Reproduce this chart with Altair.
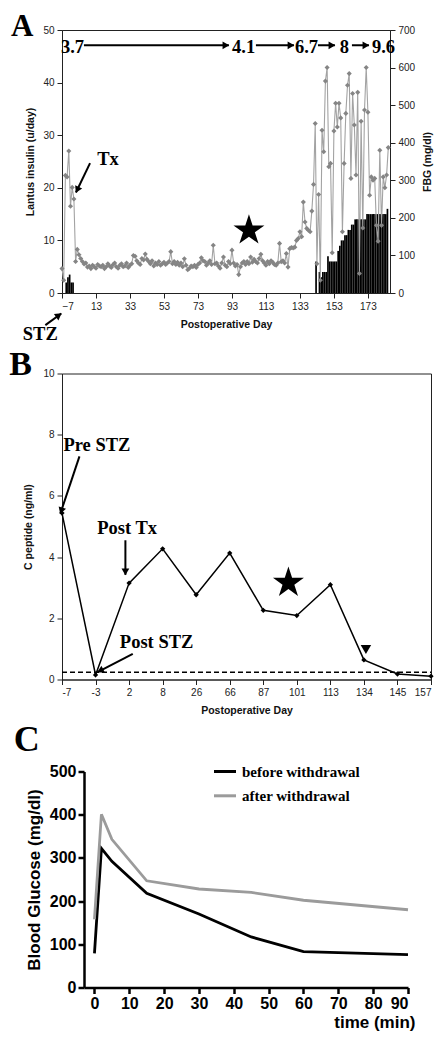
import math
import altair as alt
import pandas as pd

SANS = "Liberation Sans"
SERIF = "Liberation Serif"

# ---------------- Panel A data ----------------
fbg_days = list(range(-7, 186))
fbg_mgdl = [
    65, 34, 313, 309, 378, 231, 281, 250, 84, 116,
    102, 92, 84, 77, 80, 69, 72, 65, 74, 70,
    66, 76, 72, 70, 74, 65, 70, 78, 72, 68,
    75, 80, 70, 66, 74, 78, 70, 72, 80, 68,
    74, 78, 100, 98, 86, 80, 76, 92, 88, 104,
    90, 84, 78, 86, 72, 80, 76, 84, 74, 78,
    82, 76, 80, 84, 110, 78, 84, 76, 82, 74,
    80, 70, 91, 74, 62, 66, 72, 70, 74, 68,
    76, 80, 94, 86, 84, 74, 80, 86, 76, 127,
    78, 80, 72, 66, 80, 96, 74, 70, 84, 78,
    114, 80, 72, 76, 49, 70, 80, 84, 76, 84,
    78, 96, 82, 90, 84, 80, 92, 103, 86, 80,
    74, 84, 78, 86, 82, 76, 74, 80, 132, 83,
    86, 80, 105, 69, 118, 121, 120, 122, 140, 145,
    163, 150, 242, 189, 172, 167, 163, 218, 289, 451,
    78, 262, 34, 433, 376, 564, 600, 336, 345, 107,
    431, 505, 442, 505, 466, 163, 345, 478, 553, 584,
    305, 531, 447, 314, 534, 52, 457, 173, 487, 600,
    481, 260, 309, 300, 305, 180, 138, 380, 180, 309,
    280, 314, 387,
]
insulin_days = [-5, -4, -3, -2, -1, 142, 144, 145, 146, 147, 148, 149,
                150, 151, 152, 153, 154, 155, 156, 157, 158, 159, 160,
                161, 162, 163, 164, 165, 166, 167, 168, 169, 170, 171,
                172, 173, 174, 175, 176, 177, 178, 179, 180, 181, 182, 183, 184]
insulin_u = [2, 3, 3.5, 2, 2, 6, 4, 3, 4, 4, 4, 7,
             6, 6, 6, 6, 6, 8, 9, 10, 10, 11, 11,
             12, 12, 13, 13, 14, 14, 14, 14, 14, 14, 14,
             15, 15, 15, 15, 15, 15, 15, 15, 15, 15, 15, 15, 16]
xticks_A = [-7, 13, 33, 53, 73, 93, 113, 133, 153, 173]

# annotations of panel A (day, left-axis units)
dose_labels = ["3.7", "4.1", "6.7", "8", "9.6"]
dose_label_day = [-0.8, 99.9, 136.9, 159.2, 182.2]
dose_label_u = 46.8
dose_arrow_from = [5.9, 107.1, 143.6, 163.6]
dose_arrow_to = [91.2, 129.5, 153.6, 173.6]
dose_arrow_u = 47.1
notes_A = ["Tx", "STZ"]
notes_A_day = [20.1, -19.8]
notes_A_u = [25.5, -7.7]
arrows_A = [(9.5, 24.7, 1.2, 19.1), (-16.8, -6.1, -7.4, -3.9)]
star_A = (103, 11.9)

# ---------------- Panel B data ----------------
cpep_days = ["-7", "-3", "2", "8", "26", "66", "87", "101", "113", "134", "145", "157"]
cpep_ngml = [5.44, 0.15, 3.15, 4.27, 2.77, 4.13, 2.26, 2.09, 3.10, 0.64, 0.18, 0.11]
cpep_limit = 0.24
notes_B = ["Pre STZ", "Post Tx", "Post STZ"]
notes_B_x = [1.04, 1.94, 2.82]
notes_B_y = [7.65, 4.95, 1.22]
arrows_B = [(0.52, 7.29, -0.05, 5.42), (1.89, 4.55, 1.89, 3.42), (2.11, 0.84, 1.06, 0.24)]
star_B = (6.75, 3.16)
tri_B = (9.06, 0.98)

# ---------------- Panel C data ----------------
ogtt_min = [0, 2, 5, 15, 30, 45, 60, 90]
before_withdrawal = [79, 322, 292, 218, 170, 117, 83, 76]
after_withdrawal = [158, 401, 343, 247, 228, 220, 202, 180]
series_names = ["before withdrawal", "after withdrawal"]
series_colors = ["black", "#9b9b9b"]

STAR = ("M0,-1L0.225,-0.309L0.951,-0.309L0.363,0.118L0.588,0.809L0,0.382"
        "L-0.588,0.809L-0.363,0.118L-0.951,-0.309L-0.225,-0.309Z")


def arrow_tables(segs, sx, sy, back=3.0):
    rows, heads = [], []
    for (x1, y1, x2, y2) in segs:
        dxp = (x2 - x1) * sx
        dyp = -(y2 - y1) * sy
        L = math.hypot(dxp, dyp)
        ang = math.degrees(math.atan2(dxp, -dyp)) % 360
        rows.append(dict(x1=x1, y1=y1, x2=x2, y2=y2))
        heads.append(dict(x=x2 - dxp / L * back / sx, y=y2 + dyp / L * back / sy, ang=ang))
    return pd.DataFrame(rows), pd.DataFrame(heads)


def letter(t, x, y, size):
    return alt.Chart(pd.DataFrame({"t": [t]})).mark_text(
        font=SERIF, fontWeight="bold", fontSize=size, align="left", baseline="middle",
        color="black").encode(x=alt.value(x), y=alt.value(y), text="t:N")


# ================= Panel A =================
WA, HA = 328, 263
xA = alt.Scale(domain=[-7, 186], nice=False, zero=False)
yL = alt.Scale(domain=[0, 50], nice=False)
yR = alt.Scale(domain=[0, 700], nice=False)
axstyle = dict(labelFont=SANS, labelFontSize=10, labelColor="#222", titleFont=SANS,
               titleFontSize=10.5, titleFontWeight="bold", titleColor="#111",
               domainColor="#222", tickColor="#222", tickSize=5, labelPadding=3, grid=False,
               labelOverlap=False)
XA_T = "Postoperative Day"
YL_T = "Lantus insulin (u/day)"
axA_x = alt.Axis(values=xticks_A, titlePadding=8, **axstyle)
axA_y = alt.Axis(values=list(range(0, 51, 10)), titlePadding=7, **axstyle)


def xa(f):
    return alt.X(f, scale=xA, title=XA_T, axis=axA_x)


def ya(f):
    return alt.Y(f, scale=yL, title=YL_T, axis=axA_y)


ins_df = pd.DataFrame({"day": insulin_days, "units": insulin_u})
ins_df["day_end"] = ins_df["day"] + 1
bars = alt.Chart(ins_df).mark_rect(color="black").encode(
    x=xa("day:Q"), x2="day_end:Q", y=ya("units:Q"), y2=alt.datum(0))

dose_df = pd.DataFrame({"t": dose_labels, "x": dose_label_day, "y": dose_label_u})
dose_text = alt.Chart(dose_df).mark_text(font=SERIF, fontWeight="bold", fontSize=18.5,
                                         baseline="middle", color="black").encode(
    x=xa("x:Q"), y=ya("y:Q"), text="t:N")
dose_segs = [(a, dose_arrow_u, b, dose_arrow_u) for a, b in zip(dose_arrow_from, dose_arrow_to)]
rA, hA = arrow_tables(dose_segs + arrows_A, 1.7, 5.26)
rules_A = alt.Chart(rA).mark_rule(color="black", strokeWidth=2).encode(
    x=xa("x1:Q"), y=ya("y1:Q"), x2="x2:Q", y2="y2:Q")
heads_A = alt.Chart(hA).mark_point(shape="triangle-up", filled=True, size=60, color="black",
                                   opacity=1).encode(
    x=xa("x:Q"), y=ya("y:Q"), angle=alt.Angle("ang:Q", scale=None))
notesA_df = pd.DataFrame({"t": notes_A, "x": notes_A_day, "y": notes_A_u})
notes_A_txt = alt.Chart(notesA_df).mark_text(font=SERIF, fontWeight="bold", fontSize=18.5,
                                             baseline="middle", color="black").encode(
    x=xa("x:Q"), y=ya("y:Q"), text="t:N")
starA = alt.Chart(pd.DataFrame({"x": [star_A[0]], "y": [star_A[1]]})).mark_point(
    shape=STAR, filled=True, size=1060, color="black", opacity=1, strokeWidth=0).encode(
    x=xa("x:Q"), y=ya("y:Q"))

left_layer = alt.layer(bars, rules_A, heads_A, dose_text, notes_A_txt, starA,
                       letter("A", -51, -2.9, 31))

fbg_df = pd.DataFrame({"day": fbg_days, "fbg": fbg_mgdl})
fbg_line = alt.Chart(fbg_df).mark_line(
    color="#a3a3a3", strokeWidth=1.1,
    point=alt.OverlayMarkDef(shape="diamond", filled=True, color="#858585", size=26, opacity=1)
).encode(
    x=xa("day:Q"),
    y=alt.Y("fbg:Q", scale=yR, title="FBG (mg/dl)",
            axis=alt.Axis(orient="right", values=list(range(0, 701, 100)), titleAngle=270,
                          titleBaseline="top", titlePadding=8, **axstyle)))

panelA = alt.layer(left_layer, fbg_line).resolve_scale(y="independent").properties(
    width=WA, height=HA, view=alt.ViewBackground(stroke="#222", strokeWidth=1))

# ================= Panel B =================
WB, HB = 369, 306
xB = alt.Scale(domain=[0, 11], nice=False, zero=False)
yB = alt.Scale(domain=[0, 10], nice=False)
label_expr = "[" + ",".join("'%s'" % d for d in cpep_days) + "][datum.value]"
axB_x = alt.Axis(values=list(range(len(cpep_days))), labelExpr=label_expr, titlePadding=8, **axstyle)
axB_y = alt.Axis(values=list(range(0, 11, 2)), titlePadding=9, **axstyle)
YB_T = "C peptide (ng/ml)"


def xb(f):
    return alt.X(f, scale=xB, title=XA_T, axis=axB_x)


def yb(f):
    return alt.Y(f, scale=yB, title=YB_T, axis=axB_y)


cp_df = pd.DataFrame({"idx": list(range(len(cpep_days))), "day": cpep_days, "cp": cpep_ngml})
cp_line = alt.Chart(cp_df).mark_line(
    color="black", strokeWidth=1.5,
    point=alt.OverlayMarkDef(shape="diamond", filled=True, color="black", size=28, opacity=1)
).encode(x=xb("idx:Q"), y=yb("cp:Q"))
limit_df = pd.DataFrame({"x1": [0], "x2": [len(cpep_days) - 1], "y": [cpep_limit]})
limit = alt.Chart(limit_df).mark_rule(
    color="black", strokeWidth=1.5, strokeDash=[5, 3]).encode(
    x=xb("x1:Q"), x2="x2:Q", y=yb("y:Q"))
rB, hB = arrow_tables(arrows_B, 33.545, 30.6)
rules_B = alt.Chart(rB).mark_rule(color="black", strokeWidth=2).encode(
    x=xb("x1:Q"), y=yb("y1:Q"), x2="x2:Q", y2="y2:Q")
heads_B = alt.Chart(hB).mark_point(shape="triangle-up", filled=True, size=60, color="black",
                                   opacity=1).encode(
    x=xb("x:Q"), y=yb("y:Q"), angle=alt.Angle("ang:Q", scale=None))
notesB_df = pd.DataFrame({"t": notes_B, "x": notes_B_x, "y": notes_B_y})
notes_B_txt = alt.Chart(notesB_df).mark_text(font=SERIF, fontWeight="bold", fontSize=18.5,
                                             baseline="middle", color="black").encode(
    x=xb("x:Q"), y=yb("y:Q"), text="t:N")
starB = alt.Chart(pd.DataFrame({"x": [star_B[0]], "y": [star_B[1]]})).mark_point(
    shape=STAR, filled=True, size=1060, color="black", opacity=1, strokeWidth=0).encode(
    x=xb("x:Q"), y=yb("y:Q"))
triB = alt.Chart(pd.DataFrame({"x": [tri_B[0]], "y": [tri_B[1]]})).mark_point(
    shape="triangle-down", filled=True, size=110, color="black", opacity=1).encode(
    x=xb("x:Q"), y=yb("y:Q"))

panelB = alt.layer(cp_line, limit, rules_B, heads_B, notes_B_txt, starB, triB,
                   letter("B", -52.7, -8.2, 34)).properties(
    width=WB, height=HB, view=alt.ViewBackground(stroke="#222", strokeWidth=1))

# ================= Panel C =================
WC, HC = 324, 216
ogtt = pd.DataFrame({
    "min": ogtt_min * 2,
    "bg": before_withdrawal + after_withdrawal,
    "series": [series_names[0]] * len(ogtt_min) + [series_names[1]] * len(ogtt_min),
})
axC = dict(labelFont=SANS, labelFontSize=16, labelFontWeight="bold", labelColor="black",
           titleFont=SANS, titleFontSize=17, titleFontWeight="bold", titleColor="black",
           domainColor="black", domainWidth=2.5, tickColor="black", tickWidth=2.5,
           tickSize=6, labelPadding=2, grid=False, labelOverlap=False)
lines_C = alt.Chart(ogtt).mark_line(strokeWidth=2.8).encode(
    x=alt.X("min:Q", scale=alt.Scale(domain=[-3, 90], nice=False, zero=False),
            axis=alt.Axis(values=list(range(0, 91, 10)), title="time (min)", titleAlign="right",
                          titleX=331, titlePadding=3, **axC)),
    y=alt.Y("bg:Q", scale=alt.Scale(domain=[0, 500], nice=False),
            axis=alt.Axis(values=list(range(0, 501, 100)), title="Blood Glucose (mg/dl)",
                          titlePadding=6, **axC)),
    color=alt.Color("series:N", scale=alt.Scale(domain=series_names, range=series_colors),
                    legend=None),
)
legend_layers = []
for i, (name, col) in enumerate(zip(series_names, series_colors)):
    ldf = pd.DataFrame({"t": [name]})
    legend_layers.append(alt.Chart(ldf).mark_rule(color=col, strokeWidth=3).encode(
        x=alt.value(130), x2=alt.value(152), y=alt.value(24.3 * i)))
    legend_layers.append(alt.Chart(ldf).mark_text(
        font=SERIF, fontSize=15, fontWeight="bold", align="left", baseline="middle",
        color="black").encode(x=alt.value(158), y=alt.value(24.3 * i), text="t:N"))
panelC = alt.layer(lines_C, *legend_layers, letter("C", -70.3, -31.2, 36)).properties(
    width=WC, height=HC)

# empty spacer that moves panel C's plot area right of panels A and B
spacer = alt.Chart(pd.DataFrame({"t": [""]})).mark_text().encode(
    text="t:N", x=alt.value(0), y=alt.value(0)).properties(width=22, height=10)
rowC = alt.hconcat(spacer, panelC, spacing=0, bounds="flush")

chart = alt.concat(
    alt.concat(panelA, panelB, columns=1, spacing=3.5),
    rowC, columns=1, spacing=4.5
).properties(
    padding={"left": 0, "top": 2, "right": 0, "bottom": 0}
).configure_view(stroke=None)

chart.save("out.html", embed_options={"renderer": "svg", "actions": False})
